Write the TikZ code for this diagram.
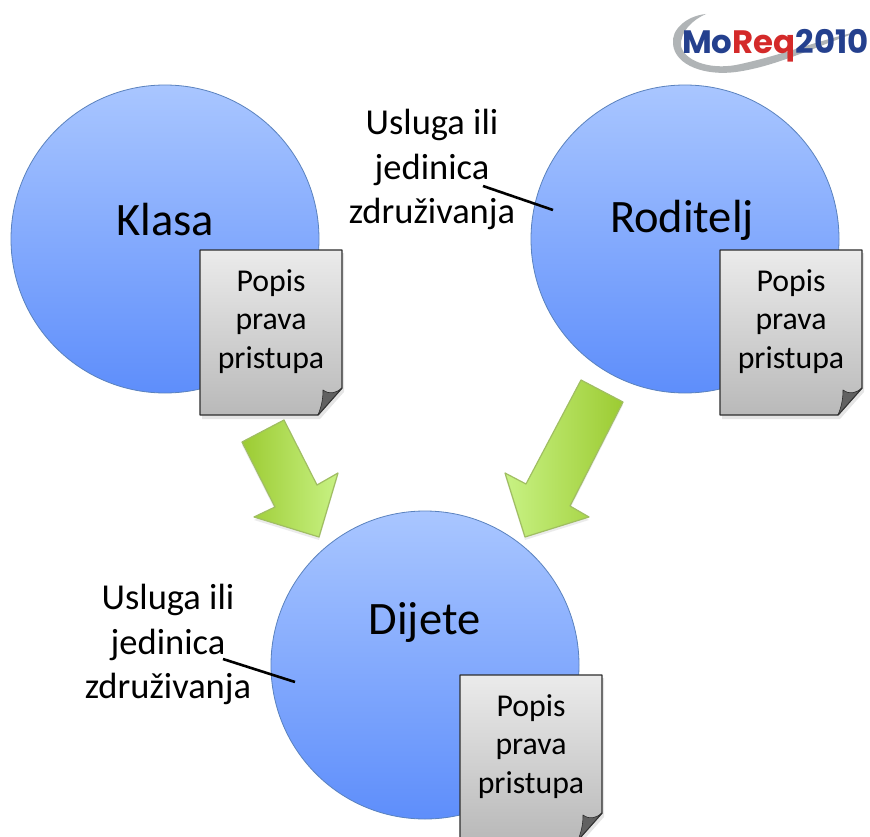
\documentclass[tikz,border=0pt]{standalone}
\usepackage{fontspec}
\setmainfont{Carlito}
\newfontfamily\logofont{Poppins}
\definecolor{circleTop}{HTML}{A9C6FF}
\definecolor{circleBot}{HTML}{5E8EFB}
\definecolor{circleEdge}{HTML}{5A82BE}
\definecolor{docTop}{HTML}{EBEBEB}
\definecolor{docBot}{HTML}{B9B9B9}
\definecolor{docEdge}{HTML}{2E2E2E}
\definecolor{arrowA}{HTML}{9CCB32}
\definecolor{arrowB}{HTML}{C8F284}
\definecolor{arrowEdge}{HTML}{A0BE62}
\definecolor{logoBlue}{HTML}{24408E}
\definecolor{logoRed}{HTML}{D42A2A}
\definecolor{logoGrey}{HTML}{B0B4B6}
\tikzset{
  bubble/.style={circle,minimum size=308pt,inner sep=0pt,draw=circleEdge,line width=0.8pt,
    top color=circleTop,bottom color=circleBot},
  bubbletext/.style={inner sep=0pt,text=black,font=\fontsize{46.5}{50}\selectfont},
  doctext/.style={align=center,font=\fontsize{31.8}{38.5}\selectfont,text=black,inner sep=0pt},
  lead/.style={align=center,font=\fontsize{36.5}{44.5}\selectfont,text=black,inner sep=0pt},
  leader/.style={draw=black,line width=2.6pt},
  bigarrow/.style={draw=arrowEdge,line width=1.2pt,line join=round},
  pics/docpage/.style={code={
    \fill[black,opacity=0.10] (2,3)--(144,3)--(144,142)--(120,169)--(2,169)--cycle;
    \path[draw=docEdge,line width=1.4pt,top color=docTop,bottom color=docBot,line join=round]
      (0,0)--(142,0)--(142,138)--(118,165)--(0,165)--cycle;
    \path[draw=docEdge,line width=0.6pt,fill=black!62,line join=round]
      (118,165) .. controls (122,155) and (123,148) .. (123,140)
      .. controls (130,145) and (136,143) .. (142,138) -- cycle;
    \node[doctext] (-text) at (71,71.5) {Popis\\prava\\pristupa};
  }}
}
\begin{document}
\begin{tikzpicture}[x=1pt,y=-1pt]
\useasboundingbox (0,0) rectangle (870,837);
\begin{scope}
\clip (0,0) rectangle (870,837);
\fill[white] (0,0) rectangle (870,837);

% logo
\fill[logoGrey] (706,14) .. controls (686,16) and (671,30) .. (673,44)
  .. controls (675,66) and (706,76) .. (736,72)
  .. controls (780,66) and (825,42) .. (865,30)
  .. controls (825,38) and (780,56) .. (736,65)
  .. controls (708,70) and (684,60) .. (681,46)
  .. controls (680,32) and (692,20) .. (706,14) -- cycle;
\node[inner sep=0pt,anchor=base west] (logo) at (682,54)
  {\logofont\bfseries\fontsize{32.4}{34}\selectfont\textcolor{logoBlue}{Mo}\textcolor{logoRed}{Req}\textcolor{logoBlue}{2010}};

% circles
\node[bubble] (klasa) at (165,239) {};
\node[bubble] (roditelj) at (685,239) {};
\node[bubble] (dijete) at (425,665) {};
\node[bubbletext] (klasatext) at (165,220) {Klasa};
\node[bubbletext] (roditeljtext) at (682,220.5) {Roditelj};
\node[bubbletext] (dijetetext) at (424.5,622) {Dijete};

% documents
\pic (dk) at (200,250) {docpage};
\pic (dr) at (720,250) {docpage};
\pic (dd) at (460,675) {docpage};

% green block arrows
\fill[black,opacity=0.08] (242,445)--(284,423)--(317,488)--(338,476)--(319,540)--(254,520)--(275,510)--cycle;
\path[bigarrow,left color=arrowA,right color=arrowB]
  (242,442)--(284,420)--(317,485)--(338,473)--(319,537)--(254,517)--(275,507)--cycle;
\fill[black,opacity=0.08] (581,383)--(623,405)--(570,509)--(589,520)--(525,540)--(505,476)--(526,487)--cycle;
\path[bigarrow,left color=arrowB,right color=arrowA]
  (581,380)--(623,402)--(570,506)--(589,517)--(525,537)--(505,473)--(526,484)--cycle;

% labels and leaders
\node[lead] (lab1) at (432,169.5) {Usluga ili\\jedinica\\združivanja};
\coordinate (lab1end) at (483,186);
\coordinate (rodin) at (553,210);
\draw[leader] (lab1end)--(rodin);
\node[lead] (lab2) at (168,644.5) {Usluga ili\\jedinica\\združivanja};
\coordinate (lab2end) at (223,659);
\coordinate (dijin) at (295,682);
\draw[leader] (lab2end)--(dijin);
\end{scope}
\end{tikzpicture}
\end{document}
